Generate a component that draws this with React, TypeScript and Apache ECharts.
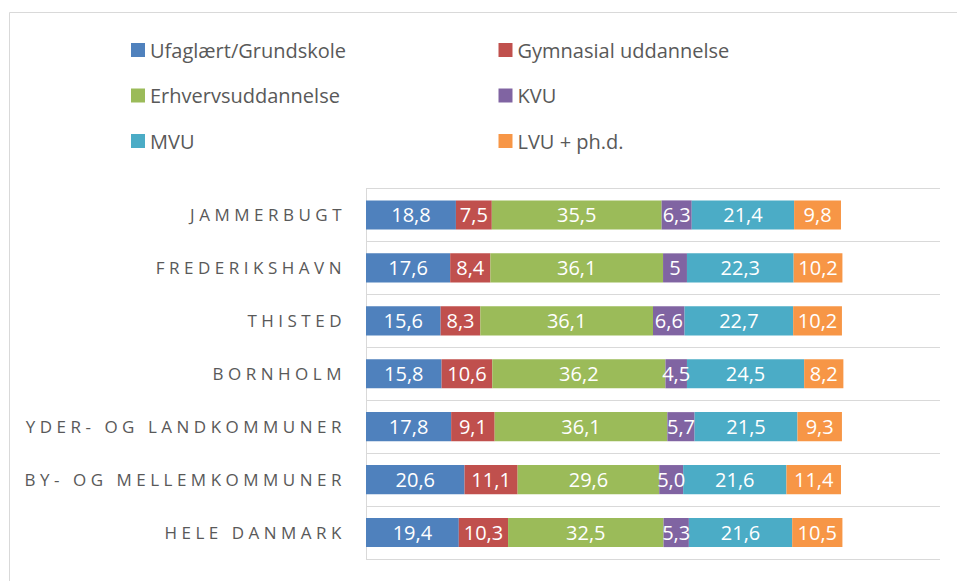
import React, { useEffect, useRef } from "react";
import * as echarts from "echarts";

const categories = [
  "JAMMERBUGT",
  "FREDERIKSHAVN",
  "THISTED",
  "BORNHOLM",
  "YDER- OG LANDKOMMUNER",
  "BY- OG MELLEMKOMMUNER",
  "HELE DANMARK",
];

const seriesNames = [
  "Ufaglært/Grundskole",
  "Gymnasial uddannelse",
  "Erhvervsuddannelse",
  "KVU",
  "MVU",
  "LVU + ph.d.",
];

const ufaglaert = ["18,8", "17,6", "15,6", "15,8", "17,8", "20,6", "19,4"];
const gymnasial = ["7,5", "8,4", "8,3", "10,6", "9,1", "11,1", "10,3"];
const erhverv = ["35,5", "36,1", "36,1", "36,2", "36,1", "29,6", "32,5"];
const kvu = ["6,3", "5", "6,6", "4,5", "5,7", "5,0", "5,3"];
const mvu = ["21,4", "22,3", "22,7", "24,5", "21,5", "21,6", "21,6"];
const lvu = ["9,8", "10,2", "10,2", "8,2", "9,3", "11,4", "10,5"];

const seriesValues = [ufaglaert, gymnasial, erhverv, kvu, mvu, lvu];
const colors = ["#4f81bd", "#c0504d", "#9bbb59", "#8064a2", "#4bacc6", "#f79646"];

const FONT = "'Open Sans', 'Noto Sans', sans-serif";

export default function App() {
  const ref = useRef<HTMLDivElement>(null);

  useEffect(() => {
    if (!ref.current) return;
    const chart = echarts.init(ref.current, undefined, { renderer: "svg" });

    const series = seriesNames.map((name, i) => ({
      name,
      type: "bar",
      stack: "total",
      barWidth: "55%",
      itemStyle: { color: colors[i] },
      label: {
        show: true,
        position: "inside",
        color: "#ffffff",
        fontFamily: FONT,
        fontSize: 20,
        formatter: (p: any) => seriesValues[i][p.dataIndex],
      },
      data: seriesValues[i].map((s) => parseFloat(s.replace(",", "."))),
    }));

    const legendCommon = {
      orient: "vertical",
      top: 40,
      padding: 0,
      itemWidth: 14,
      itemHeight: 14,
      itemGap: 25.5,
      itemTextGap: 6,
      icon: "rect",
      itemStyle: { borderWidth: 0 },
      textStyle: { color: "#595959", fontFamily: FONT, fontSize: 20, lineHeight: 20 },
      selectedMode: false,
    };

    chart.setOption({
      animation: false,
      backgroundColor: "#ffffff",
      color: colors,
      legend: [
        { ...legendCommon, left: 131, data: [seriesNames[0], seriesNames[2], seriesNames[4]] },
        { ...legendCommon, left: 498.5, data: [seriesNames[1], seriesNames[3], seriesNames[5]] },
      ],
      graphic: [
        {
          type: "rect",
          shape: { x: 9.5, y: 12.5, width: 1000, height: 700 },
          style: { fill: "none", stroke: "#d9d9d9", lineWidth: 1 },
          silent: true,
          z: -10,
        },
      ],
      grid: { left: 366, top: 188.5, right: 17, bottom: 22, containLabel: false },
      xAxis: {
        type: "value",
        min: 0,
        max: 120,
        show: false,
        splitLine: { show: false },
      },
      yAxis: {
        type: "category",
        inverse: true,
        data: categories,
        axisLine: { show: true, lineStyle: { color: "#d9d9d9", width: 1 } },
        axisTick: { show: false },
        splitLine: { show: true, lineStyle: { color: "#d9d9d9", width: 1 } },
        axisLabel: {
          color: "#595959",
          fontFamily: FONT,
          fontSize: 17,
          margin: 20,
        },
      },
      series,
    });

    const applySpacing = () => {
      const el = ref.current;
      if (!el) return;
      el.querySelectorAll("text").forEach((t) => {
        if (categories.includes((t.textContent || "").trim())) {
          (t as SVGTextElement).style.letterSpacing = "4.5px";
        }
      });
    };
    applySpacing();
    chart.on("finished", applySpacing);
    const raf = requestAnimationFrame(applySpacing);
    const tm = setTimeout(applySpacing, 50);

    return () => {
      cancelAnimationFrame(raf);
      clearTimeout(tm);
      chart.dispose();
    };
  }, []);

  return (
    <div
      ref={ref}
      style={{ position: "fixed", left: 0, top: 0, width: 957, height: 581 }}
    />
  );
}
